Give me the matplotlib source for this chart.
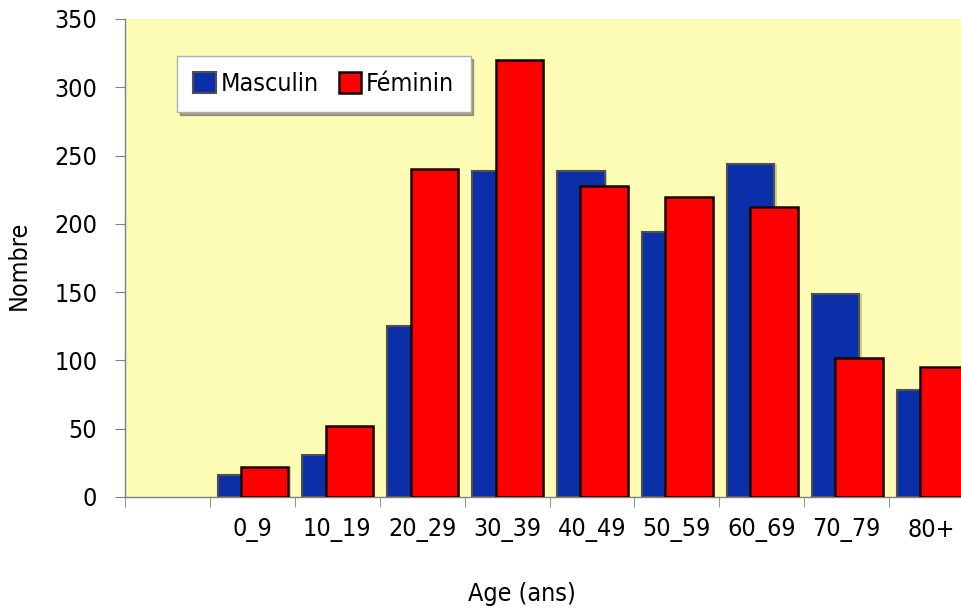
import matplotlib
matplotlib.use('Agg')
import matplotlib.pyplot as plt
import numpy as np

# ── Data ─────────────────────────────────────────────────────────────────────
categories = ['', '0_9', '10_19', '20_29', '30_39', '40_49', '50_59', '60_69', '70_79', '80+']
masculin = [np.nan, 16, 31, 125, 239, 239, 194, 244, 149, 78]
feminin = [np.nan, 22, 52, 240, 320, 228, 220, 212, 102, 95]

# ── Style ────────────────────────────────────────────────────────────────────
plt.rcParams['font.family'] = ['DejaVu Sans']
plt.rcParams['font.stretch'] = 'condensed'
FS = 18
COLOR_M = '#0a2fa8'
COLOR_F = '#ff0000'
BG = '#fcfcb4'
WIDTH = 0.56
OFF_M, OFF_F = -0.13, 0.145

fig = plt.figure(figsize=(9.61, 6.13), dpi=100)
ax = fig.add_axes([125 / 961, 116 / 613, 849 / 961, 478 / 613])
ax.set_facecolor(BG)

x = np.arange(len(categories))
# soft drop shadows behind the bars
ax.bar(x + OFF_M + 0.025, masculin, WIDTH, color='#808060', alpha=0.35,
       linewidth=0, zorder=1)
ax.bar(x + OFF_F + 0.025, feminin, WIDTH, color='#808060', alpha=0.35,
       linewidth=0, zorder=1)
ax.bar(x + OFF_M, masculin, WIDTH, color=COLOR_M, edgecolor='#505050',
       linewidth=1.5, label='Masculin', zorder=2)
ax.bar(x + OFF_F, feminin, WIDTH, color=COLOR_F, edgecolor='#1a0000',
       linewidth=1.8, label='Féminin', zorder=3)

ax.set_xlim(-0.5, len(categories) - 0.5)
ax.set_ylim(0, 350)
ax.set_yticks(np.arange(0, 351, 50))

# category labels at centres, tick marks at slot boundaries
ax.set_xticks(x)
ax.set_xticklabels(categories, fontsize=FS)
ax.set_xticks(np.arange(-0.5, len(categories), 1), minor=True)
ax.tick_params(axis='x', which='major', length=0, pad=15)
ax.tick_params(axis='x', which='minor', length=7, color='#808080', direction='out')
ax.tick_params(axis='y', length=7, color='#808080', labelsize=FS, pad=13)

for side in ['top', 'right']:
    ax.spines[side].set_visible(False)
for side in ['left', 'bottom']:
    ax.spines[side].set_color('#808080')
    ax.spines[side].set_linewidth(1.0)

fig.text(19 / 961, 1 - 265 / 613, 'Nombre', fontsize=FS, rotation=90,
         ha='center', va='center')
fig.text(522 / 961, 1 - 594 / 613, 'Age (ans)', fontsize=FS, ha='center', va='center')

leg = ax.legend(loc='upper left', bbox_to_anchor=(0.061, 0.923), ncol=2,
                fontsize=FS, frameon=True, fancybox=False, shadow=True,
                edgecolor='#b0b0b0', framealpha=1, handlelength=0.9,
                handleheight=0.9, handletextpad=0.2, columnspacing=0.8,
                borderpad=0.65, borderaxespad=0)

fig.savefig('out.png', dpi=100)
